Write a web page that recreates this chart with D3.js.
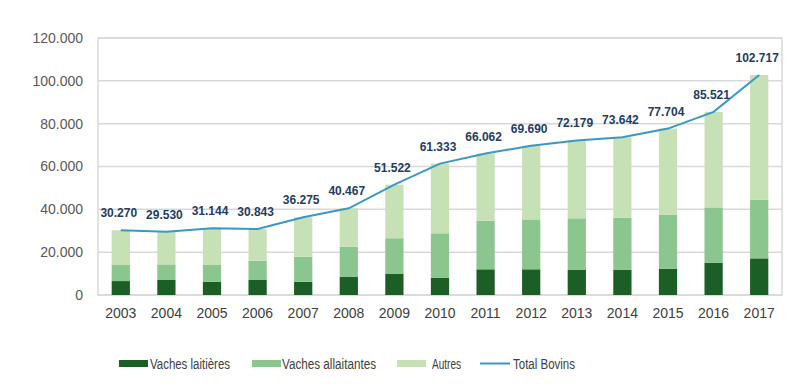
<html>
<head>
<meta charset="utf-8">
<script src="https://d3js.org/d3.v7.min.js"></script>
<style>
  body { margin: 0; background: #fff; }
  text { font-family: "Liberation Sans", Arial, sans-serif; }
</style>
</head>
<body>
<svg id="chart" width="800" height="386"></svg>
<script>
var years = ["2003","2004","2005","2006","2007","2008","2009","2010","2011","2012","2013","2014","2015","2016","2017"];
var totals = [30270, 29530, 31144, 30843, 36275, 40467, 51522, 61333, 66062, 69690, 72179, 73642, 77704, 85521, 102717];
var laitieres = [6500, 7000, 6200, 7000, 6200, 8600, 9800, 8100, 12000, 12000, 11700, 11700, 12300, 15100, 17100];
var allaitantes = [7500, 7300, 7800, 9000, 11700, 14000, 16700, 20700, 22700, 23300, 24100, 24400, 25100, 25800, 27300];
var yTicks = [0, 20000, 40000, 60000, 80000, 100000, 120000];
var keys = ["Vaches laitières", "Vaches allaitantes", "Autres"];
var colors = ["#1b5f27", "#8bc68e", "#c7e1b7"];

var svg = d3.select("#chart");
var mLeft = 98, mRight = 782, mTop = 38, mBottom = 295;

var x = d3.scaleBand().domain(years).range([mLeft, mRight]).paddingInner(0.6).paddingOuter(0.3);
var y = d3.scaleLinear().domain([0, 120000]).range([mBottom, mTop]);
var fmt = function(v) { return d3.format(",")(v).replace(/,/g, "."); };

// grid
svg.selectAll(".grid").data(yTicks).enter().append("line")
  .attr("x1", mLeft).attr("x2", mRight)
  .attr("y1", function(d){ return y(d); }).attr("y2", function(d){ return y(d); })
  .style("stroke", "#d9d9d9").style("stroke-width", 1.5);
svg.append("rect").attr("x", mLeft).attr("y", mTop).attr("width", mRight-mLeft).attr("height", mBottom-mTop)
  .style("fill", "none").style("stroke", "#d9d9d9").style("stroke-width", 1.5);

// y labels
svg.selectAll(".ylab").data(yTicks).enter().append("text")
  .attr("x", 83).attr("y", function(d){ return y(d); })
  .attr("dy", "0.35em").attr("text-anchor", "end")
  .style("font-size", "14px").style("fill", "#595959")
  .text(function(d){ return d === 0 ? "0" : fmt(d); });

// stacked bars
var rows = years.map(function(yr, i) {
  return { year: yr, "Vaches laitières": laitieres[i], "Vaches allaitantes": allaitantes[i],
           "Autres": totals[i] - laitieres[i] - allaitantes[i] };
});
var stack = d3.stack().keys(keys)(rows);
svg.selectAll(".layer").data(stack).enter().append("g")
  .style("fill", function(d, i){ return colors[i]; })
  .selectAll("rect").data(function(d){ return d; }).enter().append("rect")
  .attr("x", function(d){ return x(d.data.year); })
  .attr("width", x.bandwidth())
  .attr("y", function(d){ return y(d[1]); })
  .attr("height", function(d){ return y(d[0]) - y(d[1]); });

// x labels
svg.selectAll(".xlab").data(years).enter().append("text")
  .attr("x", function(d){ return x(d) + x.bandwidth()/2; })
  .attr("y", 313).attr("dy", "0.35em").attr("text-anchor", "middle")
  .style("font-size", "14px").style("fill", "#404040")
  .text(function(d){ return d; });

// total line
var line = d3.line()
  .x(function(d, i){ return x(years[i]) + x.bandwidth()/2; })
  .y(function(d){ return y(d); });
svg.append("path").datum(totals).attr("d", line)
  .style("fill", "none").style("stroke", "#3a98c4").style("stroke-width", 2);

svg.selectAll(".vlab").data(totals).enter().append("text")
  .attr("x", function(d, i){ return x(years[i]) + x.bandwidth()/2 - 2; })
  .attr("y", function(d){ return y(d) - 13; })
  .attr("text-anchor", "middle")
  .style("font-size", "12px").style("font-weight", "bold").style("fill", "#1f3d63")
  .text(function(d){ return fmt(d); });

// legend
var leg = [
  { label: "Vaches laitières", x: 119, tx: 150, w: 80, color: colors[0], type: "rect" },
  { label: "Vaches allaitantes", x: 252, tx: 282, w: 94, color: colors[1], type: "rect" },
  { label: "Autres", x: 397, tx: 432, w: 29, color: colors[2], type: "rect" },
  { label: "Total Bovins", x: 480, tx: 513, w: 62, color: "#3a98c4", type: "line" }
];
var lg = svg.selectAll(".leg").data(leg).enter().append("g");
lg.filter(function(d){ return d.type === "rect"; }).append("rect")
  .attr("x", function(d){ return d.x; }).attr("y", 360).attr("width", 29).attr("height", 7)
  .style("fill", function(d){ return d.color; });
lg.filter(function(d){ return d.type === "line"; }).append("line")
  .attr("x1", function(d){ return d.x; }).attr("x2", function(d){ return d.x + 30; })
  .attr("y1", 363.5).attr("y2", 363.5)
  .style("stroke", function(d){ return d.color; }).style("stroke-width", 2);
lg.append("text")
  .attr("x", function(d){ return d.tx; })
  .attr("y", 364).attr("dy", "0.35em")
  .attr("textLength", function(d){ return d.w; })
  .attr("lengthAdjust", "spacingAndGlyphs")
  .style("font-size", "14px").style("fill", "#404040")
  .text(function(d){ return d.label; });
</script>
</body>
</html>
